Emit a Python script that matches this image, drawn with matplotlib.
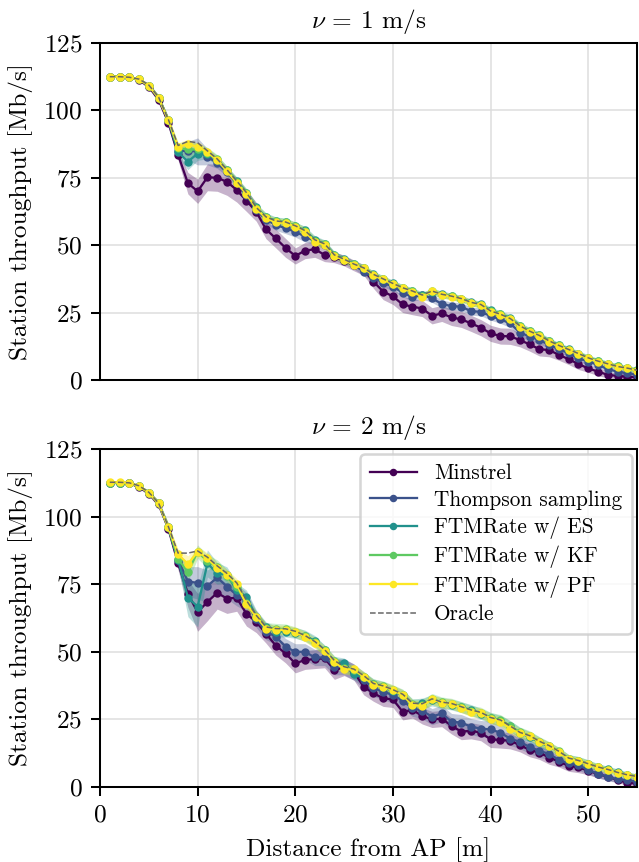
import matplotlib
matplotlib.use("Agg")
import matplotlib.pyplot as plt
import numpy as np

# ---------------- data ----------------
distance = list(range(1, 56))

# v = 1 m/s
v1_minstrel = [112.5, 112.5, 112.3, 111.3, 108.8, 104.0, 95.5, 83.5, 73.0, 70.0,
               75.2, 75.0, 73.5, 70.5, 66.5, 62.4, 55.9, 52.5, 49.0, 46.0,
               48.0, 48.5, 46.4, 45.5, 44.3, 42.5, 40.8, 36.5, 32.8, 31.0,
               28.0, 27.2, 26.5, 23.8, 24.7, 23.2, 22.5, 21.0, 19.4, 17.3,
               16.3, 16.2, 14.8, 13.2, 11.4, 11.1, 9.3, 7.7, 5.9, 4.3,
               3.1, 1.9, 1.5, 1.2, 1.0]
v1_ts = [112.5, 112.5, 112.3, 111.5, 109.2, 104.7, 96.4, 85.0, 85.0, 84.8,
         82.8, 80.5, 77.0, 73.0, 68.5, 63.0, 59.5, 57.5, 56.3, 55.0,
         53.2, 51.6, 50.1, 46.0, 44.5, 42.7, 40.2, 38.0, 36.0, 34.6,
         32.4, 30.7, 31.5, 30.3, 28.2, 27.4, 27.2, 25.5, 25.3, 23.7,
         22.5, 21.0, 17.6, 16.1, 14.8, 13.0, 11.4, 9.9, 8.0, 6.8,
         5.6, 4.0, 3.1, 2.5, 2.0]
v1_es = [112.5, 112.5, 112.3, 111.5, 109.2, 104.7, 96.4, 84.5, 81.0, 84.0,
         84.0, 81.5, 77.8, 73.8, 69.5, 64.0, 60.5, 59.0, 58.5, 57.0,
         55.5, 52.0, 50.5, 46.5, 44.8, 43.0, 41.5, 39.2, 37.5, 35.8,
         34.2, 33.0, 31.5, 32.5, 31.8, 31.0, 30.2, 28.8, 28.0, 25.8,
         24.5, 23.0, 20.2, 18.2, 16.6, 14.6, 12.9, 11.4, 9.8, 8.3,
         7.0, 6.0, 5.0, 4.4, 3.6]
v1_kf = [112.5, 112.5, 112.3, 111.5, 109.2, 104.7, 96.4, 86.0, 85.5, 85.5,
         84.3, 81.8, 77.8, 73.6, 69.3, 63.8, 60.3, 58.8, 58.5, 57.2,
         55.3, 51.6, 50.3, 46.2, 44.6, 42.9, 41.6, 39.1, 37.4, 35.7,
         34.1, 32.9, 31.2, 33.0, 31.7, 31.0, 30.1, 28.7, 27.9, 25.5,
         24.3, 22.8, 20.0, 18.1, 16.5, 14.4, 12.8, 11.2, 9.7, 8.2,
         6.9, 6.0, 5.0, 4.3, 3.6]
v1_pf = [112.5, 112.5, 112.3, 111.5, 109.2, 104.7, 96.4, 86.5, 87.5, 86.5,
         84.5, 81.6, 77.5, 73.2, 69.0, 63.5, 60.0, 58.5, 58.3, 56.9,
         55.0, 51.3, 50.1, 46.0, 44.5, 42.7, 41.4, 38.9, 37.3, 35.6,
         34.0, 32.8, 30.9, 33.0, 31.5, 30.9, 30.0, 28.6, 27.8, 25.3,
         24.1, 22.5, 19.8, 17.9, 16.3, 14.2, 12.6, 11.1, 9.6, 8.0,
         6.8, 5.9, 4.9, 4.3, 3.5]
v1_oracle = [112.5, 112.5, 112.3, 111.6, 109.4, 104.9, 96.6, 87.0, 88.5, 88.0,
             85.0, 82.0, 78.0, 73.8, 69.5, 64.0, 60.5, 59.0, 58.6, 57.2,
             55.4, 52.0, 50.5, 46.4, 44.8, 43.0, 41.6, 39.2, 37.5, 35.8,
             34.2, 33.0, 31.5, 33.0, 31.8, 31.1, 30.2, 28.8, 28.0, 25.6,
             24.4, 22.8, 20.1, 18.1, 16.5, 14.5, 12.8, 11.3, 9.8, 8.2,
             7.0, 6.0, 5.0, 4.4, 3.6]

v1_minstrel_ci = [0.3, 0.3, 0.3, 0.5, 0.8, 1.0, 1.5, 2.0, 4.0, 4.5,
                  5.0, 5.0, 5.0, 4.5, 4.0, 3.5, 3.5, 3.5, 3.5, 3.0,
                  3.0, 3.0, 2.5, 2.0, 2.0, 2.0, 2.0, 2.5, 3.0, 3.0,
                  3.0, 3.0, 3.0, 3.0, 3.0, 3.0, 3.0, 3.0, 3.0, 3.0,
                  3.0, 3.0, 2.5, 2.5, 2.5, 2.5, 2.0, 2.0, 2.0, 1.5,
                  1.5, 1.2, 1.0, 1.0, 0.8]
v1_ts_ci = [0.3, 0.3, 0.3, 0.5, 0.8, 1.0, 1.2, 1.5, 3.5, 5.0,
            3.0, 2.0, 1.5, 1.5, 1.5, 1.5, 1.5, 2.0, 2.0, 2.0,
            2.0, 1.5, 1.5, 1.5, 1.5, 1.5, 1.5, 1.5, 1.5, 1.5,
            1.5, 1.5, 1.5, 1.5, 1.5, 1.5, 1.5, 1.5, 1.5, 1.5,
            1.5, 1.5, 1.5, 1.5, 1.5, 1.2, 1.2, 1.2, 1.2, 1.0,
            1.0, 1.0, 1.0, 1.0, 1.0]
v1_es_ci = [0.3, 0.3, 0.3, 0.5, 0.8, 1.0, 1.2, 2.0, 3.0, 2.5,
            2.0, 1.8, 1.5, 1.5, 1.5, 1.5, 1.5, 1.5, 1.5, 1.5,
            1.5, 1.5, 1.5, 1.2, 1.2, 1.2, 1.2, 1.2, 1.2, 1.2,
            1.2, 1.2, 1.2, 1.2, 1.2, 1.2, 1.2, 1.2, 1.2, 1.2,
            1.2, 1.2, 1.2, 1.2, 1.2, 1.0, 1.0, 1.0, 1.0, 1.0,
            1.0, 1.0, 1.0, 1.0, 1.0]
v1_kf_ci = v1_es_ci
v1_pf_ci = [0.3, 0.3, 0.3, 0.5, 0.8, 1.0, 1.2, 1.5, 1.8, 1.5,
            1.5, 1.5, 1.5, 1.5, 1.5, 1.5, 1.5, 1.5, 1.5, 1.5,
            1.5, 1.5, 1.5, 1.2, 1.2, 1.2, 1.2, 1.2, 1.2, 1.2,
            1.2, 1.2, 1.2, 1.2, 1.2, 1.2, 1.2, 1.2, 1.2, 1.2,
            1.2, 1.2, 1.2, 1.2, 1.2, 1.0, 1.0, 1.0, 1.0, 1.0,
            1.0, 1.0, 1.0, 1.0, 1.0]

# v = 2 m/s
v2_minstrel = [112.5, 112.5, 112.3, 111.0, 108.5, 104.5, 95.5, 82.7, 71.5, 64.6,
               68.5, 71.8, 69.7, 70.0, 64.0, 61.1, 56.7, 52.3, 49.4, 45.7,
               47.0, 47.3, 47.6, 43.3, 44.2, 42.5, 37.1, 34.7, 32.8, 32.4,
               27.8, 28.5, 26.3, 25.0, 25.3, 22.6, 20.5, 20.8, 20.1, 17.6,
               17.4, 17.1, 15.5, 13.7, 12.7, 10.9, 9.4, 7.8, 7.3, 6.0,
               4.8, 3.8, 2.6, 1.6, 1.2]
v2_ts = [112.5, 112.5, 112.3, 111.3, 108.8, 104.9, 96.0, 84.0, 76.0, 75.5,
         74.3, 77.5, 74.1, 71.0, 68.5, 62.0, 57.5, 55.6, 51.9, 50.0,
         50.0, 47.9, 47.9, 44.5, 44.5, 42.5, 39.6, 36.5, 35.3, 34.0,
         31.9, 29.1, 28.2, 26.0, 27.2, 24.2, 23.8, 22.3, 21.6, 21.3,
         20.1, 17.9, 16.7, 14.8, 13.4, 12.2, 10.0, 8.7, 8.1, 6.3,
         4.9, 3.8, 2.8, 2.6, 2.0]
v2_es = [112.5, 112.5, 112.3, 111.3, 108.8, 104.9, 96.0, 84.0, 70.0, 66.7,
         82.7, 79.0, 78.4, 72.9, 70.3, 63.0, 59.0, 57.5, 57.5, 57.0,
         56.0, 54.0, 50.5, 46.3, 45.7, 41.8, 40.5, 38.0, 37.0, 35.5,
         34.0, 30.5, 30.9, 32.0, 31.0, 30.5, 29.5, 28.5, 27.0, 25.5,
         24.5, 22.5, 20.0, 18.5, 16.5, 15.0, 13.0, 10.5, 9.8, 8.5,
         7.3, 6.5, 5.5, 4.5, 3.8]
v2_kf = [112.5, 112.5, 112.3, 111.3, 108.8, 104.9, 96.0, 84.3, 79.5, 87.0,
         83.5, 81.5, 78.0, 74.0, 68.0, 63.0, 58.8, 58.5, 58.3, 57.2,
         55.8, 53.5, 50.5, 46.5, 44.0, 43.2, 40.8, 38.0, 37.2, 35.8,
         34.2, 30.6, 30.4, 32.6, 31.3, 30.8, 29.6, 28.2, 27.5, 25.6,
         24.8, 22.6, 20.2, 19.0, 16.8, 15.3, 13.2, 10.5, 9.7, 8.6,
         7.4, 6.4, 5.3, 4.5, 3.8]
v2_pf = [112.7, 112.7, 112.5, 111.3, 108.8, 104.9, 96.0, 86.0, 82.5, 87.0,
         84.6, 81.0, 78.4, 75.1, 67.5, 63.0, 58.6, 58.1, 58.1, 57.4,
         55.6, 53.1, 50.3, 46.3, 43.5, 43.5, 40.8, 37.7, 37.1, 35.9,
         34.0, 30.3, 30.0, 32.4, 31.1, 30.7, 29.3, 27.8, 27.4, 25.3,
         24.2, 21.6, 19.8, 18.9, 16.7, 15.2, 13.0, 10.2, 9.6, 8.5,
         7.3, 6.3, 5.2, 4.4, 3.8]
v2_oracle = [112.7, 112.7, 112.5, 111.4, 109.0, 105.0, 96.3, 86.5, 86.5, 87.3,
             85.0, 81.8, 79.0, 75.5, 69.0, 63.5, 59.2, 58.6, 58.5, 57.6,
             56.0, 53.8, 50.8, 46.8, 44.5, 43.6, 41.2, 38.3, 37.4, 36.0,
             34.3, 31.0, 30.8, 32.6, 31.4, 30.9, 29.7, 28.5, 27.6, 25.7,
             24.8, 22.6, 20.2, 19.0, 16.9, 15.3, 13.2, 10.7, 9.8, 8.6,
             7.4, 6.5, 5.4, 4.5, 3.9]

v2_minstrel_ci = [0.3, 0.3, 0.3, 0.5, 0.8, 1.0, 1.5, 2.5, 5.0, 7.0,
                  7.0, 6.0, 5.5, 5.0, 4.5, 4.0, 3.5, 3.5, 3.5, 3.5,
                  3.5, 3.5, 3.5, 3.5, 3.0, 3.0, 3.0, 3.0, 3.0, 3.0,
                  3.0, 3.0, 3.0, 3.0, 3.0, 3.0, 3.0, 3.0, 3.0, 3.0,
                  3.0, 3.0, 2.5, 2.5, 2.5, 2.5, 2.0, 2.0, 2.0, 1.5,
                  1.5, 1.2, 1.0, 1.0, 0.8]
v2_ts_ci = [0.3, 0.3, 0.3, 0.5, 0.8, 1.0, 1.5, 2.5, 5.5, 6.0,
            6.0, 5.0, 4.5, 4.0, 3.5, 3.0, 3.0, 3.0, 3.0, 3.0,
            3.0, 3.0, 3.0, 3.0, 3.0, 3.0, 3.0, 3.0, 3.0, 3.0,
            3.0, 3.0, 3.0, 3.0, 3.0, 3.0, 3.0, 3.0, 3.0, 3.0,
            2.5, 2.5, 2.5, 2.5, 2.5, 2.0, 2.0, 2.0, 2.0, 1.5,
            1.5, 1.5, 1.2, 1.2, 1.0]
v2_es_ci = [0.3, 0.3, 0.3, 0.5, 0.8, 1.0, 1.5, 2.5, 7.0, 7.5,
            5.0, 4.0, 3.0, 2.5, 2.5, 2.5, 2.0, 2.0, 2.0, 2.0,
            2.0, 2.0, 2.0, 2.0, 2.0, 2.0, 2.0, 2.0, 2.0, 2.0,
            2.0, 2.0, 2.0, 2.0, 2.0, 2.0, 2.0, 2.0, 2.0, 2.0,
            2.0, 2.0, 2.0, 2.0, 2.0, 1.5, 1.5, 1.5, 1.5, 1.5,
            1.2, 1.2, 1.2, 1.0, 1.0]
v2_kf_ci = [0.3, 0.3, 0.3, 0.5, 0.8, 1.0, 1.5, 2.0, 3.5, 2.5,
            2.5, 2.5, 2.5, 2.0, 2.0, 2.0, 2.0, 2.0, 2.0, 2.0,
            2.0, 2.0, 2.0, 2.0, 2.0, 2.0, 2.0, 2.0, 2.0, 2.0,
            2.0, 2.0, 2.0, 2.0, 2.0, 2.0, 2.0, 2.0, 2.0, 2.0,
            2.0, 2.0, 2.0, 1.8, 1.8, 1.5, 1.5, 1.5, 1.5, 1.5,
            1.2, 1.2, 1.2, 1.0, 1.0]
v2_pf_ci = [0.3, 0.3, 0.3, 0.5, 0.8, 1.0, 1.5, 2.0, 3.0, 2.0,
            2.0, 2.0, 2.0, 2.0, 2.0, 2.0, 1.8, 1.8, 1.8, 1.8,
            1.8, 1.8, 1.8, 1.8, 1.8, 1.8, 1.8, 1.8, 1.8, 1.8,
            1.8, 1.8, 1.8, 1.8, 1.8, 1.8, 1.8, 1.8, 1.8, 1.8,
            1.8, 1.8, 1.8, 1.5, 1.5, 1.5, 1.5, 1.5, 1.5, 1.2,
            1.2, 1.2, 1.0, 1.0, 1.0]

labels = ["Minstrel", "Thompson sampling", "FTMRate w/ ES",
          "FTMRate w/ KF", "FTMRate w/ PF"]
colors = ["#440154", "#3b528b", "#21918c", "#5ec962", "#fde725"]
titles = [r"$\nu$ = 1 m/s", r"$\nu$ = 2 m/s"]

panels = [
    ([v1_minstrel, v1_ts, v1_es, v1_kf, v1_pf],
     [v1_minstrel_ci, v1_ts_ci, v1_es_ci, v1_kf_ci, v1_pf_ci], v1_oracle),
    ([v2_minstrel, v2_ts, v2_es, v2_kf, v2_pf],
     [v2_minstrel_ci, v2_ts_ci, v2_es_ci, v2_kf_ci, v2_pf_ci], v2_oracle),
]

# ---------------- style ----------------
plt.rcParams.update({
    "font.family": "serif",
    "font.serif": ["cmr10", "DejaVu Serif"],
    "mathtext.fontset": "cm",
    "axes.formatter.use_mathtext": True,
    "font.size": 10,
    "axes.titlesize": 10,
    "axes.labelsize": 10,
    "xtick.labelsize": 10,
    "ytick.labelsize": 10,
    "legend.fontsize": 8.4,
    "axes.linewidth": 0.8,
})

DPI = 639 / 3.5
fig = plt.figure(figsize=(3.5, 862 / DPI), dpi=DPI)
ax1 = fig.add_axes([0.1565, 0.5592, 0.8405, 0.3909])
ax2 = fig.add_axes([0.1565, 0.0870, 0.8405, 0.3921], sharex=ax1)

x = np.array(distance)
for ax, title, (series, cis, oracle) in zip([ax1, ax2], titles, panels):
    for vals, ci, lab, col in zip(series, cis, labels, colors):
        v = np.array(vals)
        c = np.array(ci)
        ax.fill_between(x, v - c, v + c, color=col, alpha=0.3, linewidth=0)
        ax.plot(x, v, color=col, marker="o", markersize=2.3, linewidth=0.9,
                label=lab)
    ax.plot(x, oracle, color="#666666", linestyle="--", linewidth=0.6,
            label="Oracle", zorder=5)
    ax.set_xlim(0, 55)
    ax.set_ylim(0, 125)
    ax.set_yticks([0, 25, 50, 75, 100, 125])
    ax.set_xticks([0, 10, 20, 30, 40, 50])
    ax.grid(True, color="#dddddd", linewidth=0.6)
    ax.set_axisbelow(True)
    ax.set_title(title, pad=6)
    ax.set_ylabel("Station throughput [Mb/s]")

ax1.tick_params(axis="x", bottom=False, labelbottom=False)
ax2.set_xlabel("Distance from AP [m]")
ax2.legend(loc="upper right", framealpha=0.8, handlelength=2.2,
           borderpad=0.45, labelspacing=0.32, borderaxespad=0.25,
           markerscale=0.85)

fig.savefig("out.png", dpi=DPI)
